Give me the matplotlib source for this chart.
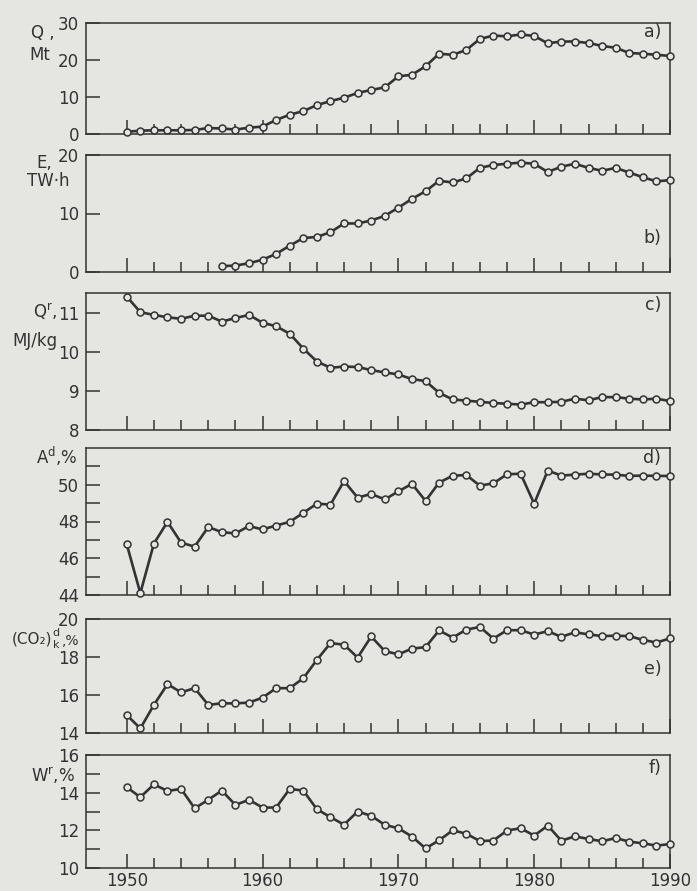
import matplotlib
matplotlib.use("Agg")
import matplotlib.pyplot as plt
import numpy as np

# ---------------- data ----------------
years_full = list(range(1950, 1991))
years_b = list(range(1957, 1991))

q_mt = [0.6, 0.9, 1.0, 1.0, 1.0, 1.1, 1.6, 1.5, 1.2, 1.7, 2.0, 3.8, 5.2, 6.2, 7.8, 8.9,
        9.8, 11.1, 11.9, 12.6, 15.6, 16.0, 18.3, 21.7, 21.4, 22.7, 25.7, 26.6, 26.4, 26.9,
        26.5, 24.5, 25.0, 25.0, 24.6, 23.8, 23.3, 21.9, 21.7, 21.4, 21.1]

e_twh = [1.0, 1.1, 1.5, 2.1, 3.1, 4.5, 5.8, 6.0, 6.8, 8.3, 8.3, 8.8, 9.6, 11.0, 12.5,
         13.8, 15.6, 15.3, 16.0, 17.8, 18.3, 18.5, 18.7, 18.5, 17.1, 18.0, 18.5, 17.8,
         17.3, 17.8, 17.0, 16.2, 15.5, 15.7]

q_mj = [11.41, 11.01, 10.94, 10.88, 10.84, 10.92, 10.92, 10.77, 10.86, 10.94, 10.74,
        10.65, 10.46, 10.08, 9.75, 9.59, 9.62, 9.61, 9.53, 9.47, 9.42, 9.30, 9.25, 8.95,
        8.78, 8.75, 8.72, 8.69, 8.67, 8.65, 8.71, 8.71, 8.72, 8.80, 8.76, 8.84, 8.84,
        8.80, 8.78, 8.80, 8.74]

ash = [46.76, 44.1, 46.8, 47.98, 46.85, 46.63, 47.7, 47.42, 47.35, 47.75, 47.57, 47.78,
       47.98, 48.47, 48.97, 48.92, 50.2, 49.3, 49.5, 49.2, 49.64, 50.05, 49.12, 50.12,
       50.49, 50.53, 49.95, 50.08, 50.57, 50.6, 48.97, 50.77, 50.5, 50.55, 50.6, 50.56,
       50.55, 50.48, 50.5, 50.48, 50.48]

co2 = [14.95, 14.24, 15.48, 16.57, 16.14, 16.36, 15.48, 15.56, 15.56, 15.6, 15.86, 16.36,
       16.36, 16.88, 17.85, 18.73, 18.65, 17.97, 19.08, 18.31, 18.14, 18.44, 18.52, 19.4,
       19.02, 19.44, 19.58, 18.97, 19.41, 19.41, 19.18, 19.36, 19.06, 19.3, 19.19, 19.1,
       19.12, 19.1, 18.9, 18.76, 18.98]

moist = [14.29, 13.76, 14.44, 14.09, 14.2, 13.17, 13.62, 14.11, 13.35, 13.62, 13.21,
         13.21, 14.2, 14.11, 13.12, 12.7, 12.3, 13.0, 12.77, 12.29, 12.11, 11.67, 11.04,
         11.47, 12.0, 11.82, 11.43, 11.46, 11.99, 12.11, 11.72, 12.25, 11.45, 11.68,
         11.54, 11.42, 11.59, 11.4, 11.31, 11.19, 11.27]

x_ticks_major = [1950, 1960, 1970, 1980, 1990]
x_ticks_minor = list(range(1952, 1990, 2))

# ---------------- style ----------------
BG = "#e5e5e1"
INK = "#333333"
plt.rcParams['font.family'] = ['DejaVu Sans']
plt.rcParams['mathtext.fontset'] = 'dejavusans'

W, H = 697, 891
fig = plt.figure(figsize=(W / 100, H / 100), dpi=100, facecolor=BG)

def add_ax(top_px, bot_px):
    left = 86 / W
    width = (670 - 86) / W
    return fig.add_axes([left, 1 - bot_px / H, width, (bot_px - top_px) / H])

panels = [
    dict(top=23, bot=134, x=years_full, y=q_mt, ylim=(0, 30), yt=[0, 10, 20, 30], ym=[],
         tag="a)", tagy=32),
    dict(top=155, bot=272, x=years_b, y=e_twh, ylim=(0, 20), yt=[0, 10, 20], ym=[],
         tag="b)", tagy=238),
    dict(top=293, bot=430, x=years_full, y=q_mj, ylim=(8, 11.5), yt=[8, 9, 10, 11], ym=[],
         tag="c)", tagy=305),
    dict(top=448, bot=595, x=years_full, y=ash, ylim=(44, 52), yt=[44, 46, 48, 50],
         ym=[45, 47, 49, 51], tag="d)", tagy=458),
    dict(top=619, bot=733, x=years_full, y=co2, ylim=(14, 20), yt=[14, 16, 18, 20], ym=[],
         tag="e)", tagy=669),
    dict(top=755, bot=868, x=years_full, y=moist, ylim=(10, 16), yt=[10, 12, 14, 16],
         ym=[11, 13, 15], tag="f)", tagy=768),
]

FS = 12
axes = []
for i, p in enumerate(panels):
    ax = add_ax(p["top"], p["bot"])
    axes.append(ax)
    ax.set_facecolor(BG)
    ax.plot(p["x"], p["y"], color=INK, lw=1.9, marker="o", ms=5.0, mfc=BG, mec=INK,
            mew=1.1, clip_on=False, zorder=3)
    ax.set_xlim(1947, 1990)
    ax.set_ylim(*p["ylim"])
    for s in ax.spines.values():
        s.set_color(INK)
        s.set_linewidth(1.1)
    ax.set_xticks(x_ticks_major)
    ax.set_xticks(x_ticks_minor, minor=True)
    ax.set_yticks(p["yt"])
    ax.set_yticks(p["ym"], minor=True)
    ax.tick_params(axis="x", which="major", direction="in", length=10, width=1.1,
                   color=INK, labelsize=FS, labelcolor=INK, pad=3)
    ax.tick_params(axis="x", which="minor", direction="in", length=7, width=1.1, color=INK)
    ax.tick_params(axis="y", which="both", direction="in", length=10, width=1.1,
                   color=INK, labelsize=FS, labelcolor=INK, pad=5)
    if i < len(panels) - 1:
        ax.tick_params(axis="x", labelbottom=False)
    frac = (p["bot"] - p["tagy"]) / (p["bot"] - p["top"])
    ax.text(0.985, frac, p["tag"], transform=ax.transAxes, ha="right", va="center",
            fontsize=FS + 0.5, color=INK)

# y-axis label texts (figure pixel coordinates)
def ftxt(x, y, s, ha="center", fs=FS):
    fig.text(x / W, 1 - y / H, s, ha=ha, va="center", fontsize=fs, color=INK)

ftxt(43, 33, "Q ,")
ftxt(40, 55, "Mt")
ftxt(44, 163, "E,")
ftxt(48, 181, "TW·h")
ftxt(57, 312, r"Q$^{\mathrm{r}}$,", ha="right")
ftxt(35, 341, "MJ/kg")
ftxt(57, 456, r"A$^{\mathrm{d}}$,%")
# (CO2)^d_k, % built from small pieces so it fits between the tick labels
ftxt(52.5, 639, "(CO₂)", ha="right", fs=11)
ftxt(52.5, 633, "d", ha="left", fs=8)
ftxt(52.5, 645, "k", ha="left", fs=8)
ftxt(61.5, 641, ",%", ha="left", fs=10)
ftxt(53, 776, r"W$^{\mathrm{r}}$,%")

fig.savefig("out.png", dpi=100, facecolor=BG)
